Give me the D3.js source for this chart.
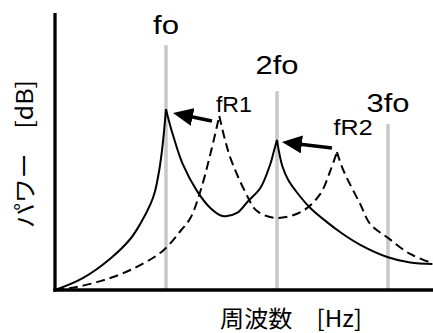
<!DOCTYPE html>
<html>
<head>
<meta charset="utf-8">
<script src="https://cdn.jsdelivr.net/npm/d3@7"></script>
<style>
  body { margin: 0; background: #fff; }
  svg { display: block; }
</style>
</head>
<body>
<svg width="433" height="333"></svg>
<script>
// frequency in units of fo, power in arbitrary dB units
const solidX = [0, 0.25, 0.5, 0.68, 0.77, 0.86, 0.9, 0.94, 0.97, 1.0, 1.03, 1.06, 1.15, 1.28, 1.4, 1.51, 1.64, 1.74, 1.85, 1.94, 1.97, 2.0, 2.02, 2.05, 2.1, 2.18, 2.3, 2.45, 2.59, 2.75, 3.0, 3.2, 3.4];
const solidY = [0, 4.3, 11.4, 18.5, 24, 31, 35.5, 43.5, 52.5, 65.3, 60.5, 56.3, 45.5, 35.7, 29.6, 26.7, 27.8, 32.1, 36.8, 45.5, 49.8, 54.2, 49.5, 44.5, 39.8, 35.2, 29.6, 24.5, 20.3, 16.3, 11.8, 9.9, 9.4];

const dashX = [0, 0.14, 0.41, 0.7, 0.97, 1.13, 1.22, 1.31, 1.4, 1.48, 1.53, 1.58, 1.71, 1.82, 2.0, 2.23, 2.39, 2.48, 2.54, 2.58, 2.63, 2.75, 2.84, 3.0, 3.2, 3.4];
const dashY = [0, 0.7, 3.2, 7.6, 14.1, 21.3, 26, 35.7, 49.1, 62.8, 54.5, 47.7, 35.7, 28.5, 26, 28.5, 34.7, 43, 49.8, 45, 40.4, 31, 23.8, 18.8, 13, 9.7];

// harmonic markers: label, freq, top of gray line, label baseline
const harmonics = ["fo", "2fo", "3fo"];
const harmonicX = [1, 2, 3];
const harmonicTop = [88.4, 71.8, 59.9];
const harmonicLabelY = [92.4, 78, 64.3];
const harmonicLabelW = [26, 43, 43];

// resonance labels and arrows (tail -> tip)
const resLabels = ["fR1", "fR2"];
const resLabelX = [1.45, 2.51];
const resLabelY = [64.3, 56];
const arrowTail = [[1.414, 61], [2.495, 51.3]];
const arrowTip = [[1.063, 63.9], [2.045, 53.4]];

const svg = d3.select("svg");

const x = d3.scaleLinear().domain([0, 3.4]).range([55, 432.4]);
const y = d3.scaleLinear().domain([0, 100]).range([290, 13]);

// gray harmonic lines
svg.append("g")
    .selectAll("line")
    .data(harmonicX)
    .enter().append("line")
        .attr("x1", d => x(d))
        .attr("x2", d => x(d))
        .attr("y1", (d, i) => y(harmonicTop[i]))
        .attr("y2", y(0))
        .attr("stroke", "#c8c8c8")
        .attr("stroke-width", 3.5);

// split a series at its peaks so the curve keeps sharp cusps
function segments(xs, ys) {
    const pts = xs.map((v, i) => [v, ys[i]]);
    const out = [];
    let cur = [pts[0]];
    for (let i = 1; i < pts.length; i++) {
        cur.push(pts[i]);
        if (i < pts.length - 1 && ys[i] > ys[i - 1] && ys[i] > ys[i + 1]) {
            out.push(cur);
            cur = [pts[i]];
        }
    }
    out.push(cur);
    return out;
}

const line = d3.line()
    .x(d => x(d[0]))
    .y(d => y(d[1]))
    .curve(d3.curveCatmullRom.alpha(0.5));

svg.append("path")
    .attr("d", segments(dashX, dashY).map(line).join(""))
    .attr("fill", "none")
    .attr("stroke", "#000")
    .attr("stroke-width", 2)
    .attr("stroke-dasharray", "9,5");

svg.append("path")
    .attr("d", segments(solidX, solidY).map(line).join(""))
    .attr("fill", "none")
    .attr("stroke", "#000")
    .attr("stroke-width", 2);

// axes (no ticks)
svg.append("line")
    .attr("x1", x(0)).attr("x2", x(0))
    .attr("y1", y(100)).attr("y2", y(0) + 1.7)
    .attr("stroke", "#000").attr("stroke-width", 3.3);
svg.append("line")
    .attr("x1", x(0) - 1.7).attr("x2", 433)
    .attr("y1", y(0)).attr("y2", y(0))
    .attr("stroke", "#000").attr("stroke-width", 3.3);

// harmonic labels
svg.append("g")
    .selectAll("text")
    .data(harmonics)
    .enter().append("text")
        .attr("x", (d, i) => x(harmonicX[i]))
        .attr("y", (d, i) => y(harmonicLabelY[i]))
        .attr("text-anchor", "middle")
        .attr("font-family", "'Liberation Sans', Arial, sans-serif")
        .attr("font-size", 25)
        .attr("textLength", (d, i) => harmonicLabelW[i])
        .attr("lengthAdjust", "spacingAndGlyphs")
        .text(d => d);

// resonance labels
svg.append("g")
    .selectAll("text")
    .data(resLabels)
    .enter().append("text")
        .attr("x", (d, i) => x(resLabelX[i]))
        .attr("y", (d, i) => y(resLabelY[i]))
        .attr("font-family", "'Liberation Sans', Arial, sans-serif")
        .attr("font-size", 22)
        .attr("textLength", (d, i) => i ? 39 : 36)
        .attr("lengthAdjust", "spacingAndGlyphs")
        .text(d => d);

// arrows: shaft stops inside the head, head tip lands on the target
const headLen = 20;
svg.append("defs").append("marker")
    .attr("id", "head")
    .attr("viewBox", "0 0 20 18")
    .attr("refX", 10).attr("refY", 9)
    .attr("markerWidth", 20).attr("markerHeight", 18)
    .attr("markerUnits", "userSpaceOnUse")
    .attr("orient", "auto")
    .append("path")
        .attr("d", "M0,0 L20,9 L0,18 Z")
        .attr("fill", "#000");

svg.append("g")
    .selectAll("line")
    .data(arrowTail)
    .enter().append("line")
        .each(function(d, i) {
            const x1 = x(d[0]), y1 = y(d[1]);
            const tx = x(arrowTip[i][0]), ty = y(arrowTip[i][1]);
            const len = Math.hypot(tx - x1, ty - y1);
            const k = (len - headLen / 2) / len;
            d3.select(this)
                .attr("x1", x1).attr("y1", y1)
                .attr("x2", x1 + (tx - x1) * k)
                .attr("y2", y1 + (ty - y1) * k);
        })
        .attr("stroke", "#000")
        .attr("stroke-width", 3.5)
        .attr("marker-end", "url(#head)");

// axis titles
svg.append("text")
    .attr("x", 291)
    .attr("y", 327)
    .attr("text-anchor", "middle")
    .attr("font-family", "'Noto Sans CJK JP', sans-serif")
    .attr("font-size", 23)
    .attr("textLength", 142)
    .attr("lengthAdjust", "spacingAndGlyphs")
    .text("周波数　[Hz]");

svg.append("text")
    .attr("transform", "translate(33,154) rotate(-90)")
    .attr("text-anchor", "middle")
    .attr("font-family", "'Noto Sans CJK JP', sans-serif")
    .attr("font-size", 23)
    .attr("textLength", 148)
    .attr("lengthAdjust", "spacingAndGlyphs")
    .text("パワー　[dB]");
</script>
</body>
</html>
